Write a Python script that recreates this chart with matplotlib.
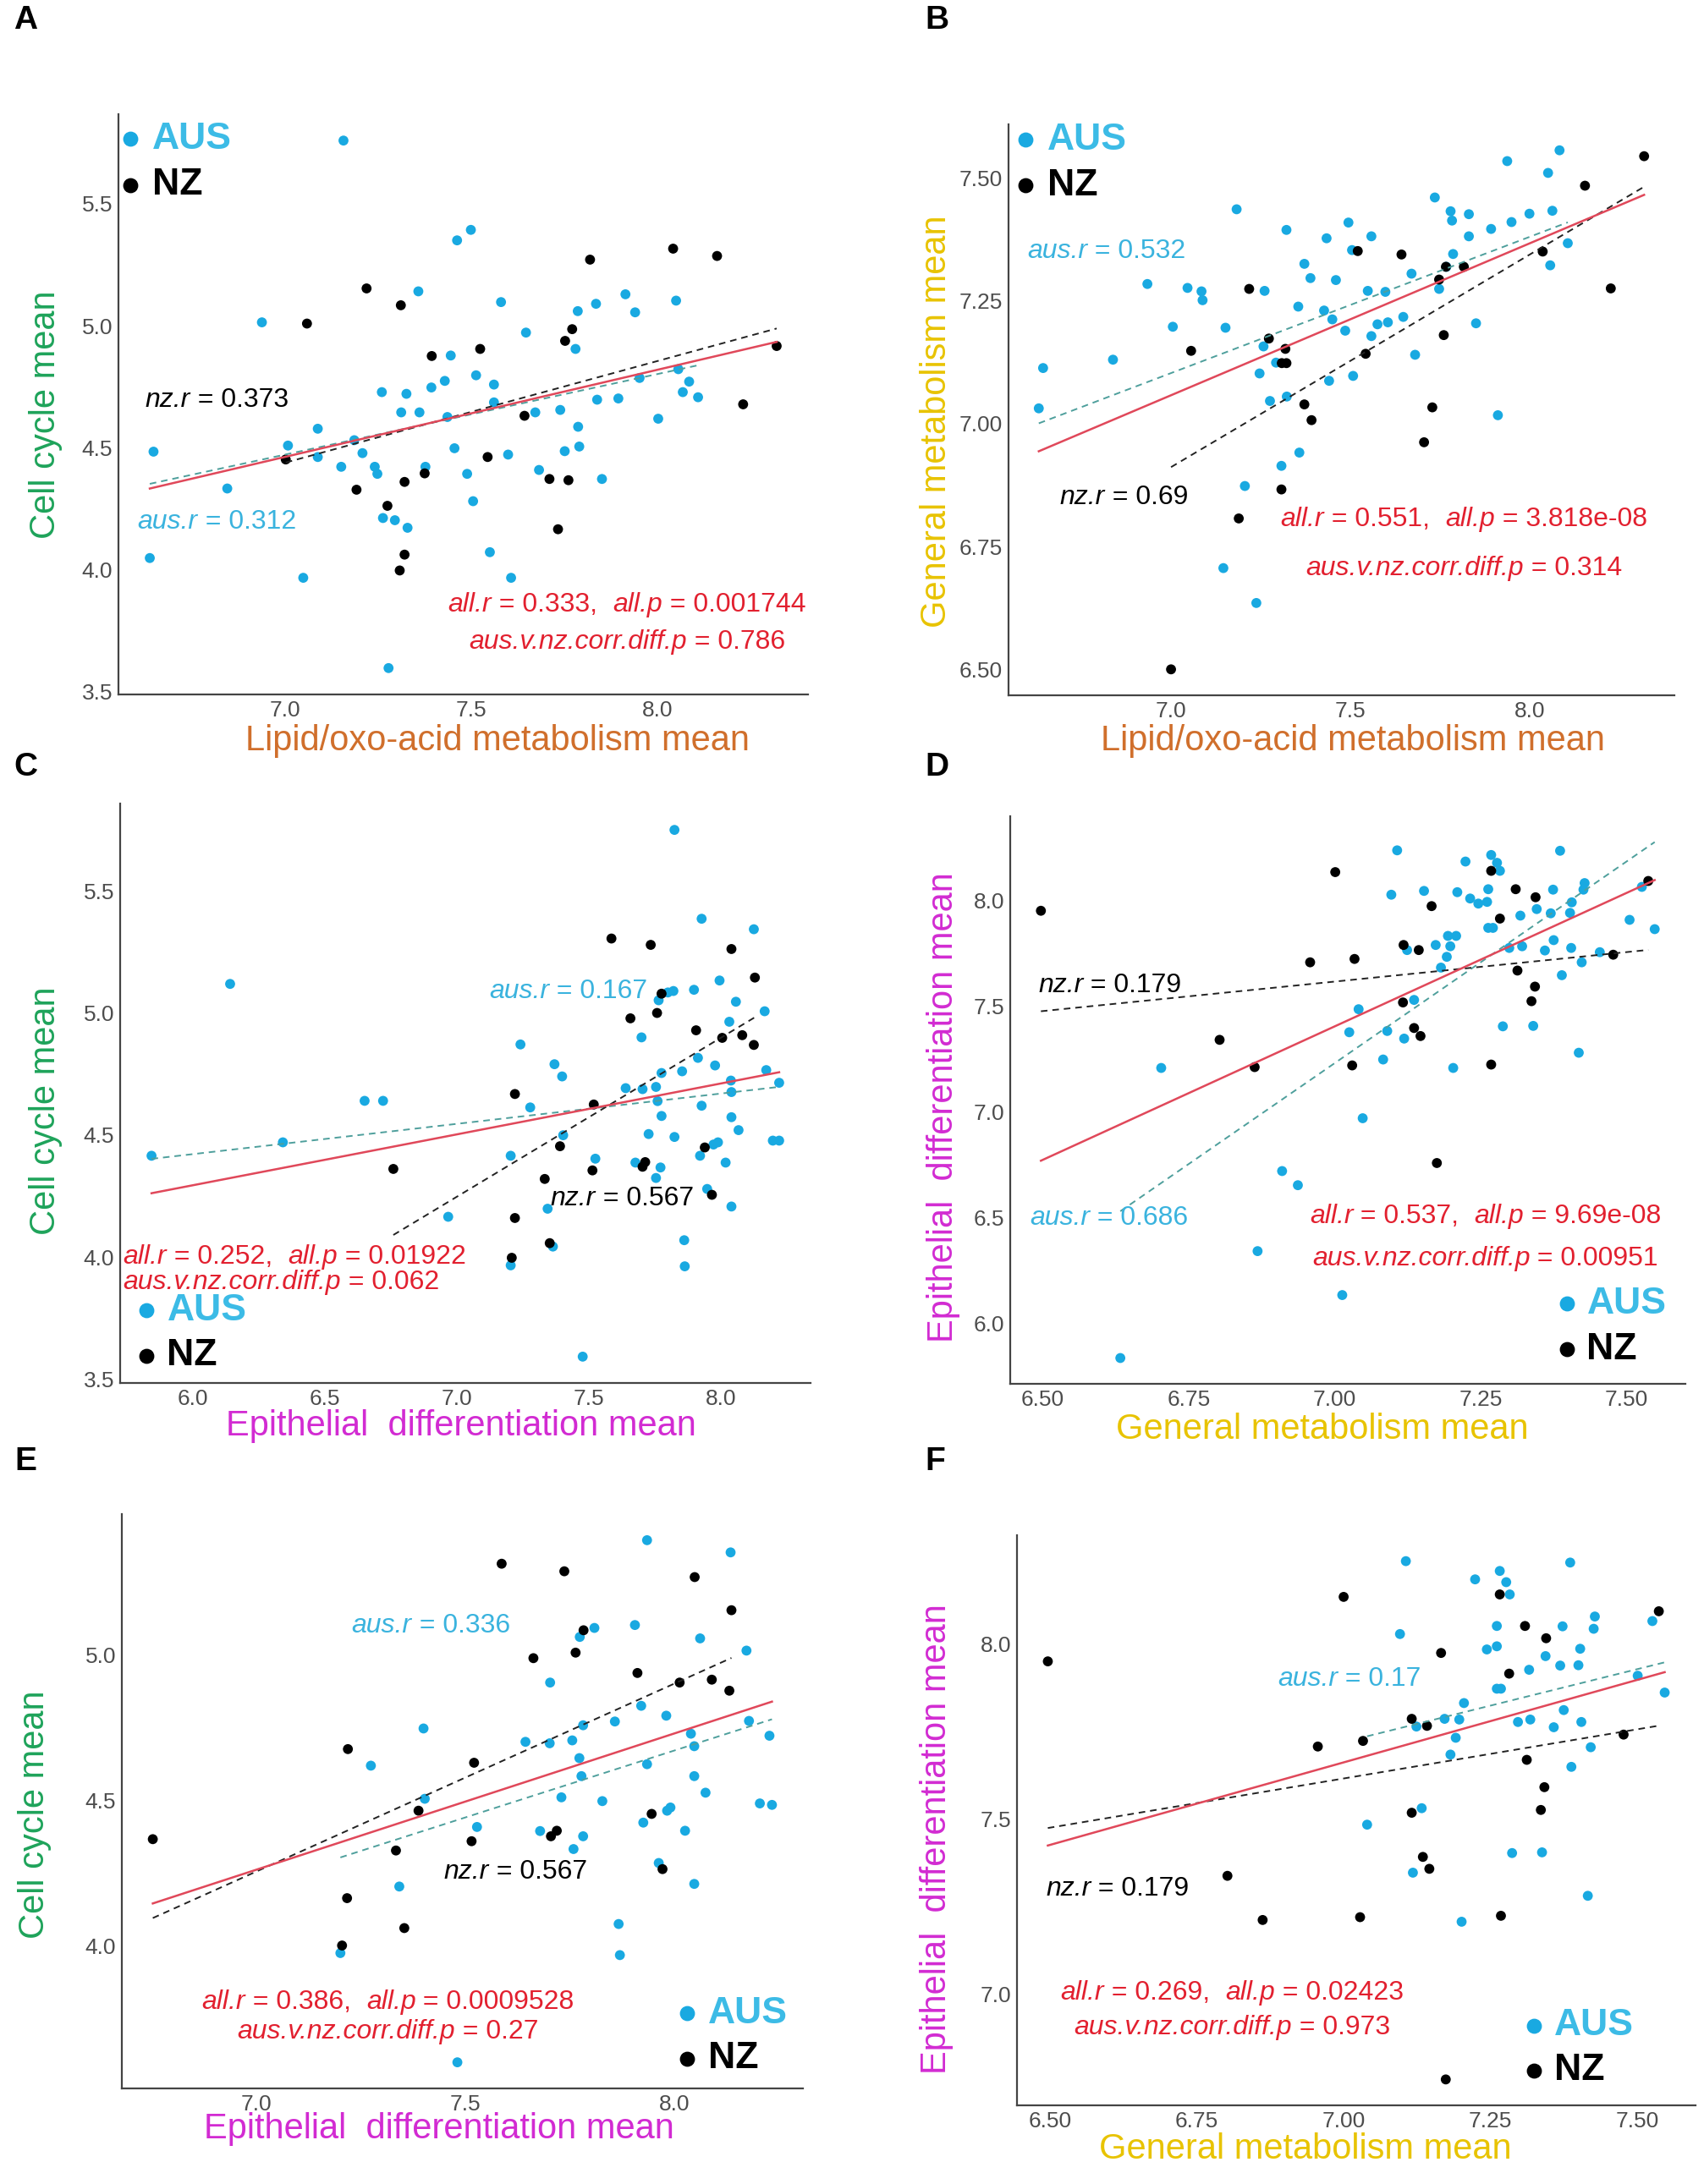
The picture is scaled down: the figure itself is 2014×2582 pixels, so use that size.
import numpy as np
import matplotlib
matplotlib.use('Agg')
import matplotlib.pyplot as plt
from matplotlib.offsetbox import TextArea, HPacker, AnnotationBbox

plt.rcParams['font.family'] = ['Liberation Sans', 'DejaVu Sans']

# ---------------- data ----------------
# A: Lipid/oxo-acid (x) vs Cell cycle (y)
a_aus_x = [7.156, 6.937, 6.646, 6.636, 6.844, 7.048, 7.007, 7.087, 7.087, 7.150, 7.185, 7.207, 7.240,
           7.247, 7.259, 7.262, 7.294, 7.328, 7.277, 7.311, 7.325, 7.360, 7.357, 7.376, 7.392, 7.428,
           7.435, 7.444, 7.454, 7.461, 7.498, 7.488, 7.504, 7.512, 7.549, 7.560, 7.560, 7.579, 7.598,
           7.606, 7.646, 7.671, 7.681, 7.738, 7.750, 7.779, 7.785, 7.786, 7.789, 7.834, 7.837, 7.850,
           7.894, 7.913, 7.939, 7.951, 8.001, 8.049, 8.055, 8.067, 8.084, 8.108]
a_aus_y = [5.759, 5.014, 4.484, 4.048, 4.333, 3.967, 4.509, 4.578, 4.462, 4.422, 4.531, 4.478, 4.422,
           4.393, 4.728, 4.212, 4.203, 4.172, 3.597, 4.645, 4.721, 4.645, 5.141, 4.422, 4.747, 4.774,
           4.626, 4.878, 4.498, 5.350, 5.393, 4.393, 4.281, 4.797, 4.072, 4.759, 4.686, 5.097, 4.472,
           3.967, 4.972, 4.645, 4.409, 4.655, 4.486, 4.905, 5.060, 4.586, 4.505, 5.090, 4.697, 4.372,
           4.702, 5.129, 5.055, 4.786, 4.619, 5.103, 4.822, 4.728, 4.771, 4.707]
a_nz_x = [7.058, 7.001, 7.218, 7.310, 7.191, 7.274, 7.320, 7.374, 7.320, 7.307, 7.393, 7.523,
          7.543, 7.642, 7.709, 7.732, 7.751, 7.770, 7.760, 7.818, 8.041, 8.159, 8.229, 8.319]
a_nz_y = [5.009, 4.452, 5.153, 5.084, 4.328, 4.262, 4.360, 4.395, 4.062, 3.997, 4.876, 4.905,
          4.462, 4.631, 4.372, 4.166, 4.938, 4.986, 4.367, 5.271, 5.316, 5.286, 4.678, 4.917]

# B: Lipid/oxo-acid (x) vs General metabolism (y)
b_aus_x = [6.631, 6.643, 6.838, 6.934, 7.005, 7.046, 7.085, 7.088, 7.152, 7.183, 7.206, 7.146, 7.238,
           7.247, 7.258, 7.261, 7.276, 7.293, 7.308, 7.322, 7.323, 7.358, 7.355, 7.372, 7.389, 7.434,
           7.427, 7.441, 7.450, 7.460, 7.486, 7.495, 7.508, 7.505, 7.549, 7.559, 7.559, 7.576, 7.598,
           7.605, 7.648, 7.671, 7.681, 7.736, 7.748, 7.768, 7.780, 7.784, 7.787, 7.831, 7.831, 7.851,
           7.893, 7.912, 7.938, 7.950, 8.000, 8.052, 8.058, 8.064, 8.084, 8.107]
b_aus_y = [7.031, 7.113, 7.130, 7.284, 7.197, 7.276, 7.269, 7.251, 7.195, 7.436, 6.873, 6.706, 6.635,
           7.102, 7.157, 7.270, 7.046, 7.124, 6.914, 7.394, 7.055, 6.941, 7.238, 7.325, 7.296, 7.377,
           7.230, 7.087, 7.212, 7.292, 7.189, 7.409, 7.097, 7.353, 7.270, 7.178, 7.381, 7.202, 7.268,
           7.206, 7.217, 7.305, 7.140, 7.460, 7.274, 7.319, 7.432, 7.413, 7.345, 7.426, 7.381, 7.204,
           7.396, 7.017, 7.534, 7.410, 7.427, 7.510, 7.322, 7.433, 7.556, 7.367]
b_nz_x = [7.056, 7.000, 7.189, 7.218, 7.273, 7.308, 7.309, 7.319, 7.322, 7.372, 7.392, 7.521,
          7.543, 7.643, 7.706, 7.729, 7.748, 7.761, 7.767, 7.817, 8.037, 8.155, 8.227, 8.320]
b_nz_y = [7.148, 6.500, 6.807, 7.274, 7.173, 6.866, 7.123, 7.152, 7.123, 7.039, 7.007, 7.351,
          7.142, 7.344, 6.962, 7.033, 7.293, 7.180, 7.319, 7.319, 7.350, 7.484, 7.275, 7.544]

# C: Epithelial differentiation (x) vs Cell cycle (y)
c_aus_x = [5.842, 6.140, 6.340, 6.650, 6.720, 6.967, 7.204, 7.204, 7.241, 7.278, 7.344, 7.364, 7.370,
           7.399, 7.403, 7.477, 7.525, 7.640, 7.677, 7.700, 7.704, 7.727, 7.755, 7.755, 7.761, 7.765,
           7.772, 7.776, 7.776, 7.800, 7.821, 7.825, 7.825, 7.854, 7.862, 7.864, 7.899, 7.914, 7.922,
           7.928, 7.928, 7.949, 7.973, 7.979, 7.990, 7.996, 8.019, 8.033, 8.039, 8.041, 8.041, 8.041,
           8.058, 8.068, 8.126, 8.167, 8.173, 8.198, 8.222, 8.222]
c_aus_y = [4.415, 5.119, 4.470, 4.640, 4.640, 4.165, 4.415, 3.966, 4.871, 4.613, 4.198, 4.043, 4.790,
           4.740, 4.499, 3.592, 4.403, 4.692, 4.387, 4.900, 4.688, 4.504, 4.697, 4.324, 4.639, 5.052,
           4.367, 4.578, 4.754, 5.084, 5.090, 5.750, 4.492, 4.761, 4.069, 3.962, 5.095, 4.816, 4.415,
           5.386, 4.620, 4.279, 4.461, 4.785, 4.470, 5.133, 4.387, 4.964, 4.723, 4.207, 4.676, 4.573,
           5.046, 4.520, 5.343, 5.007, 4.766, 4.477, 4.477, 4.714]
c_nz_x = [6.759, 7.220, 7.220, 7.208, 7.333, 7.352, 7.391, 7.514, 7.519, 7.586, 7.658, 7.704,
          7.714, 7.735, 7.759, 7.776, 7.907, 7.940, 7.967, 8.006, 8.041, 8.082, 8.126, 8.130]
c_nz_y = [4.361, 4.668, 4.160, 3.997, 4.320, 4.057, 4.454, 4.355, 4.625, 5.305, 4.978, 4.370,
          4.389, 5.279, 5.000, 5.079, 4.929, 4.449, 4.255, 4.898, 5.262, 4.909, 4.869, 5.145]

# D: General metabolism (x) vs Epithelial differentiation (y)
d_aus_x = [6.633, 6.703, 6.868, 6.910, 6.937, 7.013, 7.025, 7.048, 7.041, 7.083, 7.090, 7.097, 7.107,
           7.119, 7.124, 7.136, 7.153, 7.173, 7.182, 7.192, 7.194, 7.198, 7.203, 7.208, 7.210, 7.224,
           7.232, 7.246, 7.261, 7.263, 7.263, 7.268, 7.271, 7.278, 7.283, 7.288, 7.299, 7.318, 7.321,
           7.340, 7.346, 7.360, 7.370, 7.374, 7.375, 7.386, 7.389, 7.403, 7.405, 7.406, 7.418, 7.423,
           7.426, 7.428, 7.454, 7.505, 7.526, 7.548]
d_aus_y = [5.835, 7.208, 6.341, 6.720, 6.653, 6.133, 7.377, 6.970, 7.486, 7.248, 7.383, 8.028, 8.238,
           7.347, 7.766, 7.530, 8.046, 7.790, 7.683, 7.734, 7.833, 7.784, 7.208, 7.833, 8.040, 8.185,
           8.010, 7.986, 7.994, 8.054, 7.871, 8.216, 7.871, 8.179, 8.141, 7.405, 7.776, 7.929, 7.784,
           7.407, 7.960, 7.764, 7.940, 8.052, 7.813, 8.236, 7.647, 7.942, 7.776, 7.992, 7.280, 7.708,
           8.052, 8.083, 7.756, 7.909, 8.065, 7.865]
d_nz_x = [6.497, 6.803, 6.863, 6.958, 7.001, 7.030, 7.034, 7.117, 7.118, 7.136, 7.144, 7.147,
          7.166, 7.175, 7.268, 7.268, 7.283, 7.310, 7.313, 7.337, 7.343, 7.344, 7.477, 7.537]
d_nz_y = [7.952, 7.341, 7.212, 7.708, 8.135, 7.220, 7.724, 7.518, 7.790, 7.397, 7.766, 7.359,
          7.974, 6.758, 8.141, 7.224, 7.915, 8.054, 7.669, 7.524, 7.593, 8.016, 7.744, 8.093]

# E: Epithelial differentiation (x) vs Cell cycle (y), reduced AUS set
e_aus_x = [7.201, 7.274, 7.342, 7.400, 7.403, 7.481, 7.528, 7.644, 7.679, 7.702, 7.703, 7.730, 7.756,
           7.759, 7.773, 7.774, 7.778, 7.782, 7.782, 7.809, 7.828, 7.858, 7.867, 7.870, 7.906, 7.921,
           7.926, 7.935, 7.935, 7.963, 7.981, 7.983, 7.991, 8.026, 8.040, 8.048, 8.048, 8.048, 8.062,
           8.075, 8.135, 8.173, 8.179, 8.205, 8.228, 8.234]
e_aus_y = [3.974, 4.619, 4.203, 4.747, 4.505, 3.598, 4.408, 4.701, 4.394, 4.696, 4.905, 4.510, 4.706,
           4.332, 4.645, 5.062, 4.583, 4.758, 4.376, 5.093, 4.497, 4.771, 4.074, 3.967, 5.103, 4.825,
           4.423, 5.395, 4.624, 4.284, 4.791, 4.464, 4.475, 4.395, 4.729, 4.686, 4.583, 4.212, 5.057,
           4.526, 5.353, 5.015, 4.773, 4.489, 4.722, 4.484]
e_nz_x = [6.752, 7.205, 7.217, 7.219, 7.334, 7.354, 7.388, 7.515, 7.521, 7.587, 7.663, 7.705,
          7.719, 7.737, 7.764, 7.783, 7.912, 7.946, 7.972, 8.013, 8.049, 8.090, 8.132, 8.137]
e_nz_y = [4.366, 4.000, 4.163, 4.676, 4.327, 4.060, 4.464, 4.359, 4.629, 5.314, 4.989, 4.376,
          4.395, 5.288, 5.008, 5.085, 4.938, 4.453, 4.263, 4.905, 5.268, 4.915, 4.877, 5.154]

# F: General metabolism (x) vs Epithelial differentiation (y), reduced AUS set
f_aus_x = [7.040, 7.096, 7.106, 7.118, 7.124, 7.133, 7.172, 7.182, 7.191, 7.197, 7.201, 7.205, 7.224,
           7.244, 7.261, 7.261, 7.261, 7.266, 7.268, 7.277, 7.283, 7.287, 7.297, 7.316, 7.318, 7.344,
           7.338, 7.358, 7.369, 7.373, 7.375, 7.386, 7.388, 7.400, 7.403, 7.405, 7.416, 7.421, 7.426,
           7.428, 7.501, 7.526, 7.547]
f_aus_y = [7.484, 8.028, 8.236, 7.347, 7.764, 7.531, 7.786, 7.684, 7.732, 7.784, 7.207, 7.831, 8.184,
           7.984, 7.993, 8.051, 7.872, 8.208, 7.872, 8.176, 8.141, 7.403, 7.777, 7.926, 7.784, 7.965,
           7.405, 7.762, 7.938, 8.050, 7.811, 8.232, 7.649, 7.939, 7.986, 7.777, 7.281, 7.705, 8.043,
           8.078, 7.909, 8.065, 7.861]
f_nz_x = [6.496, 6.802, 6.862, 6.956, 7.000, 7.028, 7.033, 7.116, 7.116, 7.135, 7.142, 7.146,
          7.166, 7.174, 7.266, 7.268, 7.282, 7.309, 7.312, 7.336, 7.342, 7.345, 7.477, 7.537]
f_nz_y = [7.950, 7.338, 7.212, 7.707, 8.134, 7.220, 7.723, 7.518, 7.786, 7.392, 7.766, 7.358,
          7.974, 6.757, 8.141, 7.224, 7.915, 8.051, 7.669, 7.526, 7.591, 8.016, 7.741, 8.093]

# stats text: aus.r, nz.r, all.r, all.p, aus.v.nz.corr.diff.p
a_stats = ['0.312', '0.373', '0.333', '0.001744', '0.786']
b_stats = ['0.532', '0.69', '0.551', '3.818e-08', '0.314']
c_stats = ['0.167', '0.567', '0.252', '0.01922', '0.062']
d_stats = ['0.686', '0.179', '0.537', '9.69e-08', '0.00951']
e_stats = ['0.336', '0.567', '0.386', '0.0009528', '0.27']
f_stats = ['0.17', '0.179', '0.269', '0.02423', '0.973']

# colours
aus_col = '#19a9e1'
aus_txt = '#3ab3de'
aus_line = '#4e9f9c'
red_txt = '#e2202f'
red_line = '#e0485a'
lab_cc = '#1ea35a'
lab_lip = '#d06f2c'
lab_gm = '#e8c300'
lab_ed = '#d22bd2'

LIP = 'Lipid/oxo-acid metabolism mean'
CC = 'Cell cycle mean'
GM = 'General metabolism mean'
ED = 'Epithelial  differentiation mean'

W, H = 2014, 2582
fig = plt.figure(figsize=(W / 100, H / 100), dpi=100)


def frac(l, r, t, b):
    return [l / W, 1 - b / H, (r - l) / W, (b - t) / H]


panels = [
    dict(letter='A', box=(140, 955, 135, 821), aus=(a_aus_x, a_aus_y), nz=(a_nz_x, a_nz_y), st=a_stats,
         xl=(LIP, lab_lip, 588, 876), yl=(CC, lab_cc, 54, 490), lp=(30, 24),
         xt=[7.0, 7.5, 8.0], yt=[3.5, 4.0, 4.5, 5.0, 5.5], xf='%.1f', yf='%.1f',
         aus_pos=(6.603, 4.195, 0), nz_pos=(6.624, 4.695, 0),
         all_pos=(7.917, 3.855, 3.703, 0.5), leg=(0.017, 0.049, 0.957, 0.878)),
    dict(letter='B', box=(1192, 1979, 147, 822), aus=(b_aus_x, b_aus_y), nz=(b_nz_x, b_nz_y), st=b_stats,
         xl=(LIP, lab_lip, 1599, 876), yl=(GM, lab_gm, 1107, 498), lp=(1107, 24),
         xt=[7.0, 7.5, 8.0], yt=[6.5, 6.75, 7.0, 7.25, 7.5], xf='%.1f', yf='%.2f',
         aus_pos=(6.598, 7.351, 0), nz_pos=(6.689, 6.850, 0),
         all_pos=(7.817, 6.805, 6.705, 0.5), leg=(0.0255, 0.058, 0.973, 0.893)),
    dict(letter='C', box=(142, 958, 950, 1635), aus=(c_aus_x, c_aus_y), nz=(c_nz_x, c_nz_y), st=c_stats,
         xl=(ED, lab_ed, 545, 1686), yl=(CC, lab_cc, 54, 1313), lp=(30, 907),
         xt=[6.0, 6.5, 7.0, 7.5, 8.0], yt=[3.5, 4.0, 4.5, 5.0, 5.5], xf='%.1f', yf='%.1f',
         aus_pos=(7.123, 5.090, 0), nz_pos=(7.354, 4.241, 0),
         all_pos=(5.735, 4.0, 3.898, 0), leg=(0.0385, 0.068, 0.1255, 0.047)),
    dict(letter='D', box=(1194, 1992, 965, 1636), aus=(d_aus_x, d_aus_y), nz=(d_nz_x, d_nz_y), st=d_stats,
         xl=(GM, lab_gm, 1563, 1690), yl=(ED, lab_ed, 1115, 1309), lp=(1107, 907),
         xt=[6.5, 6.75, 7.0, 7.25, 7.5], yt=[6.0, 6.5, 7.0, 7.5, 8.0], xf='%.2f', yf='%.1f',
         aus_pos=(6.478, 6.496, 0), nz_pos=(6.4925, 7.597, 0),
         all_pos=(7.258, 6.506, 6.304, 0.5), leg=(0.824, 0.854, 0.141, 0.0607)),
    dict(letter='E', box=(144, 949, 1790, 2469), aus=(e_aus_x, e_aus_y), nz=(e_nz_x, e_nz_y), st=e_stats,
         xl=(ED, lab_ed, 519, 2517), yl=(CC, lab_cc, 41, 2145), lp=(30, 1728),
         xt=[7.0, 7.5, 8.0], yt=[4.0, 4.5, 5.0], xf='%.1f', yf='%.1f',
         aus_pos=(7.228, 5.101, 0), nz_pos=(7.448, 4.253, 0),
         all_pos=(7.315, 3.806, 3.704, 0.5), leg=(0.830, 0.861, 0.131, 0.052)),
    dict(letter='F', box=(1202, 2004, 1815, 2489), aus=(f_aus_x, f_aus_y), nz=(f_nz_x, f_nz_y), st=f_stats,
         xl=(GM, lab_gm, 1543, 2541), yl=(ED, lab_ed, 1107, 2174), lp=(1105, 1728),
         xt=[6.5, 6.75, 7.0, 7.25, 7.5], yt=[7.0, 7.5, 8.0], xf='%.2f', yf='%.1f',
         aus_pos=(6.888, 7.899, 0), nz_pos=(6.4925, 7.30, 0),
         all_pos=(6.810, 7.004, 6.905, 0.5), leg=(0.762, 0.792, 0.140, 0.061)),
]

FS = 23


def fit_line(ax, x, y, **kw):
    x = np.asarray(x)
    y = np.asarray(y)
    k, c = np.polyfit(x, y, 1)
    xs = np.array([x.min(), x.max()])
    ax.plot(xs, k * xs + c, **kw)


def mixed_text(ax, x, y, parts, color, halign):
    # parts: list of (text, italic)
    areas = [TextArea(t, textprops=dict(color=color, fontsize=FS,
                                        style='italic' if it else 'normal'))
             for t, it in parts]
    box = HPacker(children=areas, align='baseline', pad=0, sep=0)
    ab = AnnotationBbox(box, (x, y), xycoords='data', box_alignment=(halign, 0.5),
                        frameon=False, pad=0, annotation_clip=False, zorder=6)
    ax.add_artist(ab)


for p in panels:
    ax = fig.add_axes(frac(*p['box']))
    au_x, au_y = p['aus']
    nz_x, nz_y = p['nz']
    ax.scatter(au_x, au_y, s=72, color=aus_col, edgecolors='none', zorder=3)
    ax.scatter(nz_x, nz_y, s=72, color='black', edgecolors='none', zorder=3)

    fit_line(ax, au_x, au_y, color=aus_line, lw=1.4, ls=(0, (4, 3)), zorder=4)
    fit_line(ax, nz_x, nz_y, color='#222222', lw=1.4, ls=(0, (4, 3)), zorder=4)
    fit_line(ax, list(au_x) + list(nz_x), list(au_y) + list(nz_y), color=red_line, lw=1.8, zorder=4)

    ax.set_xticks(p['xt'])
    ax.set_yticks(p['yt'])
    ax.set_xticklabels([p['xf'] % v for v in p['xt']])
    ax.set_yticklabels([p['yf'] % v for v in p['yt']])
    ax.tick_params(length=0, labelsize=19, labelcolor='#4d4d4d', pad=5)
    for s in ['top', 'right']:
        ax.spines[s].set_visible(False)
    for s in ['left', 'bottom']:
        ax.spines[s].set_color('#444444')
        ax.spines[s].set_linewidth(1.6)

    st = p['st']
    x0, y0, ha = p['aus_pos']
    mixed_text(ax, x0, y0, [('aus.r', True), (' = ' + st[0], False)], aus_txt, ha)
    x0, y0, ha = p['nz_pos']
    mixed_text(ax, x0, y0, [('nz.r', True), (' = ' + st[1], False)], 'black', ha)
    xa, y1, y2, ha = p['all_pos']
    mixed_text(ax, xa, y1, [('all.r', True), (' = ' + st[2] + ',  ', False),
                            ('all.p', True), (' = ' + st[3], False)], red_txt, ha)
    mixed_text(ax, xa, y2, [('aus.v.nz.corr.diff.p', True), (' = ' + st[4], False)], red_txt, ha)

    # legend
    mx, tx, ya, yn = p['leg']
    ax.scatter([mx], [ya], s=140, color=aus_col, transform=ax.transAxes, clip_on=False, zorder=5)
    ax.scatter([mx], [yn], s=140, color='black', transform=ax.transAxes, clip_on=False, zorder=5)
    ax.text(tx, ya, 'AUS', transform=ax.transAxes, fontsize=32, fontweight='bold',
            color='#3cbbe6', va='center', ha='left')
    ax.text(tx, yn, 'NZ', transform=ax.transAxes, fontsize=32, fontweight='bold',
            color='black', va='center', ha='left')

    # axis titles and panel letter
    t, col, cx, cy = p['xl']
    fig.text(cx / W, 1 - cy / H, t, color=col, fontsize=30, ha='center', va='center')
    t, col, cx, cy = p['yl']
    fig.text(cx / W, 1 - cy / H, t, color=col, fontsize=30, ha='center', va='center', rotation=90)
    lx, ly = p['lp']
    fig.text(lx / W, 1 - ly / H, p['letter'], fontsize=28, fontweight='bold', ha='center', va='center')

fig.savefig('out.png', dpi=100, facecolor='white')
